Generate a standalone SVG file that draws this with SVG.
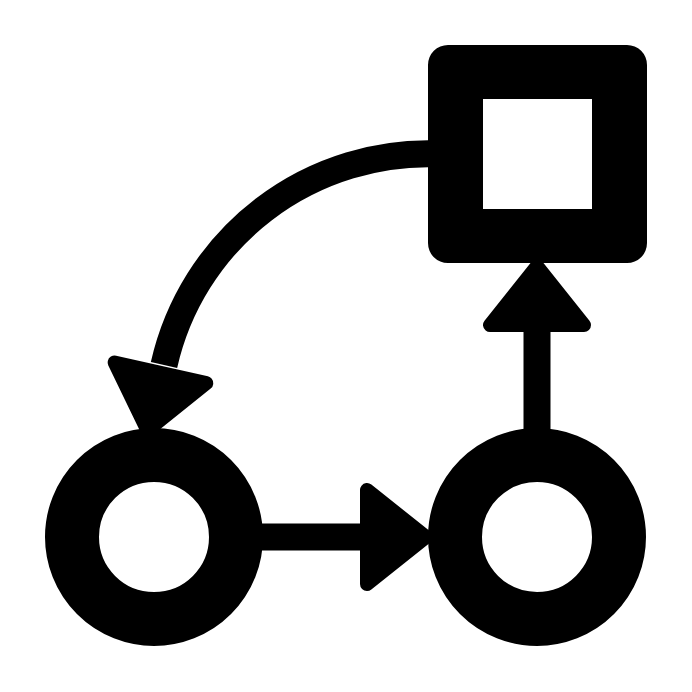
<svg xmlns="http://www.w3.org/2000/svg" width="692" height="692" viewBox="0 0 692 692">
  <style>
    .ln { fill: none; stroke: #000; stroke-width: 27; }
    .ring { fill: none; stroke: #000; stroke-width: 54; }
    .head { fill: #000; stroke: #000; stroke-width: 14; stroke-linejoin: round; }
  </style>
  <defs>
    <path id="ah" class="head" d="M7,-47 L7,47 L66,0 Z"/>
  </defs>
  <rect x="0" y="0" width="692" height="692" fill="#fff"/>
  <g id="connectors">
    <path class="ln" d="M440,154 A271,271 0 0 0 164,365"/>
    <use href="#ah" transform="translate(162,366) rotate(102.7)"/>
    <line class="ln" x1="255" y1="537" x2="366" y2="537"/>
    <use href="#ah" transform="translate(360,537)"/>
    <line class="ln" x1="537" y1="440" x2="537" y2="326"/>
    <use href="#ah" transform="translate(537,332) rotate(-90)"/>
  </g>
  <g id="node-square">
    <path fill="#000" fill-rule="evenodd" d="M448,45 H627 A20,20 0 0 1 647,65 V243 A20,20 0 0 1 627,263 H448 A20,20 0 0 1 428,243 V65 A20,20 0 0 1 448,45 Z M483,99 V209 H592 V99 Z"/>
  </g>
  <g id="node-left">
    <circle class="ring" cx="154" cy="537" r="82"/>
  </g>
  <g id="node-right">
    <circle class="ring" cx="537" cy="537" r="82"/>
  </g>
</svg>
